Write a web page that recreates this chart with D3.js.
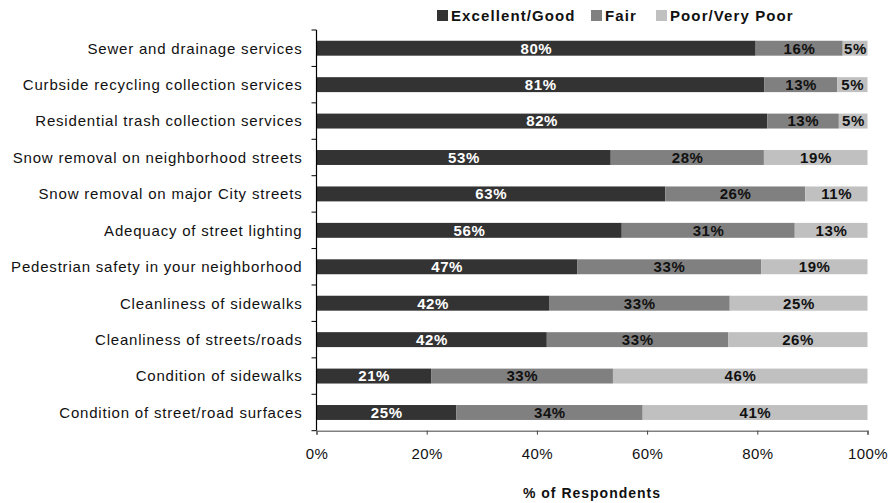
<!DOCTYPE html>
<html>
<head>
<meta charset="utf-8">
<script src="https://cdn.jsdelivr.net/npm/d3@7"></script>
<style>
  body { margin: 0; background: #fff; }
  svg { display: block; font-family: "Liberation Sans", Arial, sans-serif; }
</style>
</head>
<body>
<svg id="chart" width="896" height="503"></svg>
<script>
// ---- data ----
const categories = [
  "Sewer and drainage services",
  "Curbside recycling collection services",
  "Residential trash collection services",
  "Snow removal on neighborhood streets",
  "Snow removal on major City streets",
  "Adequacy of street lighting",
  "Pedestrian safety in your neighborhood",
  "Cleanliness of sidewalks",
  "Cleanliness of streets/roads",
  "Condition of sidewalks",
  "Condition of street/road surfaces"
];
const seriesNames = ["Excellent/Good", "Fair", "Poor/Very Poor"];
const excellentGood = [79.7, 81.3, 81.8, 53.4, 63.3, 55.4, 47.3, 42.2, 41.8, 20.8, 25.4];
const fair          = [15.8, 13.2, 13.0, 27.8, 25.4, 31.4, 33.4, 32.8, 32.9, 33.0, 33.8];
const poorVeryPoor  = [4.5, 5.5, 5.2, 18.8, 11.3, 13.2, 19.3, 25.0, 25.3, 46.2, 40.8];
const labelsExcellent = ["80%", "81%", "82%", "53%", "63%", "56%", "47%", "42%", "42%", "21%", "25%"];
const labelsFair      = ["16%", "13%", "13%", "28%", "26%", "31%", "33%", "33%", "33%", "33%", "34%"];
const labelsPoor      = ["5%", "5%", "5%", "19%", "11%", "13%", "19%", "25%", "26%", "46%", "41%"];
const xTicks = [0, 20, 40, 60, 80, 100];
const xTitle = "% of Respondents";

const colors = ["#333333", "#808080", "#c0c0c0"];
const labelColors = ["#ffffff", "#111111", "#111111"];

// ---- layout ----
const svg = d3.select("#chart");
const x0 = 316.5, x1 = 867.5, yTop = 30, yBot = 430.7;

const x = d3.scaleLinear().domain([0, 100]).range([x0, x1]);
const y = d3.scaleBand().domain(categories).range([yTop, yBot]).paddingInner(0.59).paddingOuter(0.295);

const seriesVals = [excellentGood, fair, poorVeryPoor];
const seriesLabels = [labelsExcellent, labelsFair, labelsPoor];

// build stacked rows
const rows = categories.map((c, i) => {
  let acc = 0;
  return seriesVals.map((vals, s) => {
    const start = acc;
    acc += vals[i];
    return { cat: c, s, start, end: Math.min(acc, 100), label: seriesLabels[s][i] };
  });
}).flat();

// bars
svg.append("g").selectAll("rect").data(rows).join("rect")
  .attr("x", d => x(d.start))
  .attr("y", d => y(d.cat))
  .attr("width", d => x(d.end) - x(d.start))
  .attr("height", y.bandwidth())
  .attr("fill", d => colors[d.s]);

// value labels
svg.append("g").selectAll("text").data(rows).join("text")
  .attr("x", d => (x(d.start) + x(d.end)) / 2 + 0.3)
  .attr("y", d => y(d.cat) + y.bandwidth() / 2)
  .attr("dy", "0.36em")
  .attr("text-anchor", "middle")
  .attr("font-size", 15)
  .attr("font-weight", "bold")
  .attr("letter-spacing", "0.6px")
  .attr("fill", d => labelColors[d.s])
  .text(d => d.label);

// y axis
const yAxisG = svg.append("g");
yAxisG.append("line").attr("x1", x0).attr("x2", x0).attr("y1", yTop).attr("y2", yBot)
  .attr("stroke", "#000").attr("stroke-width", 1.2);
const step = y.step();
d3.range(categories.length + 1).forEach(i => {
  const yy = yTop + i * step;
  yAxisG.append("line").attr("x1", x0 - 5).attr("x2", x0).attr("y1", yy).attr("y2", yy)
    .attr("stroke", "#000").attr("stroke-width", 1);
});
yAxisG.selectAll("text.cat").data(categories).join("text")
  .attr("class", "cat")
  .attr("x", 302.5)
  .attr("y", d => y(d) + y.bandwidth() / 2)
  .attr("dy", "0.36em")
  .attr("text-anchor", "end")
  .attr("font-size", 15)
  .attr("letter-spacing", "0.8px")
  .attr("fill", "#111")
  .text(d => d);

// x axis
const xAxis = d3.axisBottom(x).tickValues(xTicks).tickFormat(d => d + "%").tickSize(4).tickPadding(14);
const xg = svg.append("g").attr("transform", `translate(0,${yBot})`).call(xAxis);
xg.select(".domain").attr("stroke", "#808080").attr("stroke-width", 1.5);
xg.selectAll(".tick line").attr("stroke", "#444");
xg.selectAll(".tick text")
  .attr("font-size", 15)
  .attr("letter-spacing", "0.4px")
  .attr("fill", "#111")
  .attr("font-family", "Liberation Sans, Arial, sans-serif");

// x title
svg.append("text")
  .attr("x", (x0 + x1) / 2)
  .attr("y", 498)
  .attr("text-anchor", "middle")
  .attr("font-size", 14)
  .attr("font-weight", "bold")
  .attr("letter-spacing", "1px")
  .attr("fill", "#111")
  .text(xTitle);

// legend
const legendX = [437, 591, 656];
const lg = svg.append("g");
seriesNames.forEach((name, i) => {
  lg.append("rect").attr("x", legendX[i]).attr("y", 10).attr("width", 11).attr("height", 11)
    .attr("fill", colors[i]);
  lg.append("text").attr("x", legendX[i] + 14).attr("y", 15.5).attr("dy", "0.36em")
    .attr("font-size", 15).attr("font-weight", "bold").attr("letter-spacing", "1.1px")
    .attr("fill", "#111").text(name);
});
</script>
</body>
</html>
